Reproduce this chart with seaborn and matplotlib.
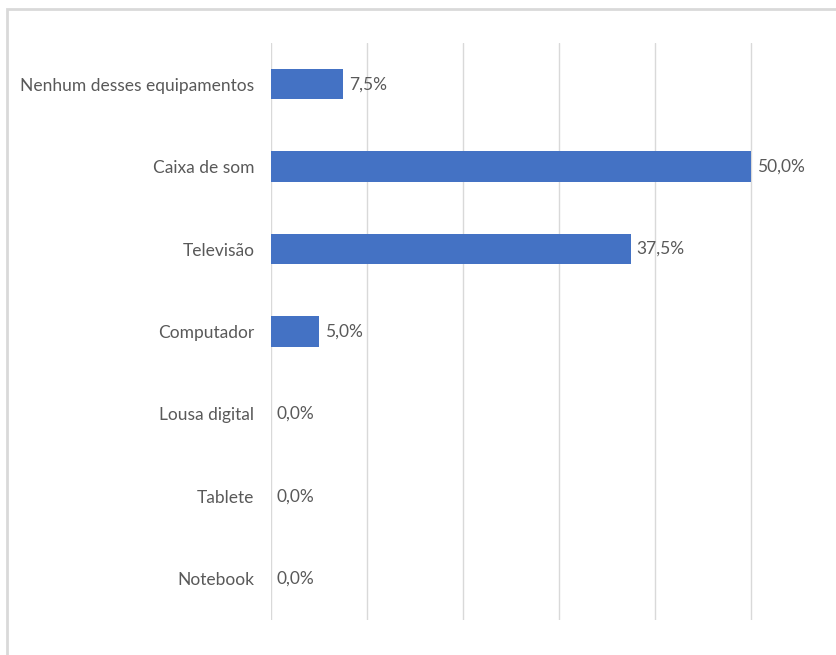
import pandas as pd
import numpy as np
import matplotlib.pyplot as plt
import matplotlib.patches as patches
import seaborn as sns

# Data
equipamentos = ['Nenhum desses equipamentos', 'Caixa de som', 'Televisão',
                'Computador', 'Lousa digital', 'Tablete', 'Notebook']
percentuais = [7.5, 50.0, 37.5, 5.0, 0.0, 0.0, 0.0]

df = pd.DataFrame({'equipamento': equipamentos, 'pct': percentuais})

sns.set_style('white')
plt.rcParams['font.family'] = ['Liberation Sans Narrow', 'Lato', 'DejaVu Sans']

W, H = 837, 655
fig = plt.figure(figsize=(W / 100, H / 100), dpi=100)
ax = fig.add_axes([271 / W, 1 - 620 / H, 1 - 271 / W, (620 - 43) / H])

sns.barplot(data=df, x='pct', y='equipamento', orient='h', color='#4472C4',
            width=0.37, saturation=1, linewidth=0, ax=ax)

ax.set_xlim(0, (W - 271) / 96 * 10)
ax.set_xticks(np.arange(0, 60, 10))
ax.set_xticklabels([])
ax.tick_params(axis='both', length=0)
ax.xaxis.grid(True, color='#d9d9d9', lw=1)
ax.yaxis.grid(False)
ax.set_axisbelow(True)
for s in ax.spines.values():
    s.set_visible(False)
ax.set_xlabel('')
ax.set_ylabel('')
ax.tick_params(axis='y', pad=12, labelsize=12.5, labelcolor='#595959')

for i, v in enumerate(percentuais):
    ax.text(v + 0.6, i, f'{v:.1f}%'.replace('.', ','), va='center', ha='left',
            fontsize=12.5, color='#595959')

# outer frame of the chart
fig.add_artist(patches.Rectangle((7 / W, -0.1), 1.2, 1 - 9 / H + 0.1,
                                 transform=fig.transFigure, fill=False,
                                 edgecolor='#d9d9d9', lw=2))

fig.savefig('out.png', dpi=100)
